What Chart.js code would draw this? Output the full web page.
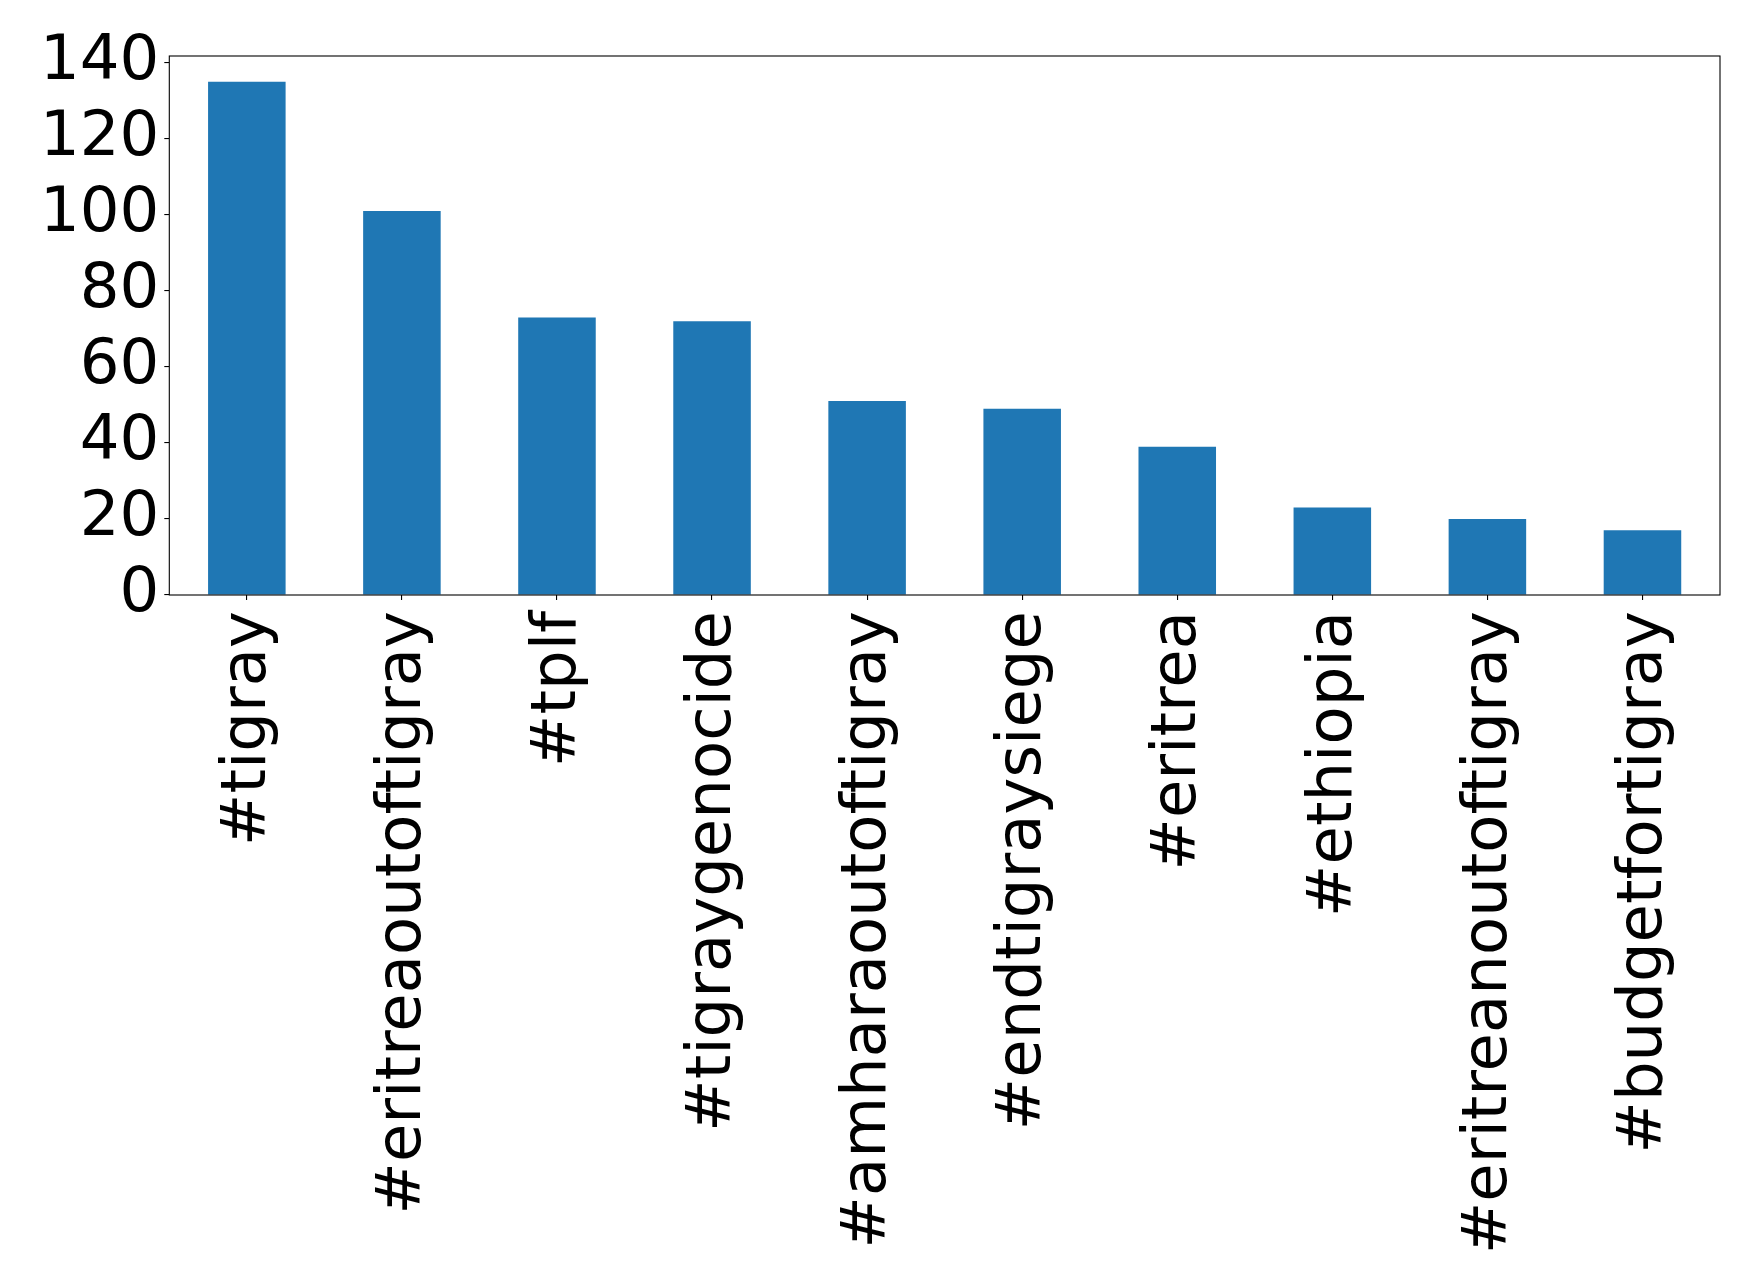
<!DOCTYPE html>
<html>
<head>
<meta charset="utf-8">
<script src="https://cdn.jsdelivr.net/npm/chart.js@4.4.1/dist/chart.umd.min.js"></script>
<style>
  html, body { margin: 0; padding: 0; background: #ffffff; }
  #wrap { width: 1758px; height: 1288px; }
</style>
</head>
<body>
<div id="wrap"><canvas id="c" width="1758" height="1288"></canvas></div>
<script>
const categories = ["#tigray", "#eritreaoutoftigray", "#tplf", "#tigraygenocide", "#amharaoutoftigray", "#endtigraysiege", "#eritrea", "#ethiopia", "#eritreanoutoftigray", "#budgetfortigray"];
const counts = [135, 101, 73, 72, 51, 49, 39, 23, 20, 17];
const yTicks = [0, 20, 40, 60, 80, 100, 120, 140];

const FONT = "'DejaVu Sans', 'Liberation Sans', sans-serif";

const frame = {
  id: 'frame',
  afterDraw(chart) {
    const a = chart.chartArea, ctx = chart.ctx;
    ctx.save();
    ctx.strokeStyle = '#000';
    ctx.lineWidth = 1.1;
    ctx.strokeRect(a.left, a.top, a.right - a.left, a.bottom - a.top);
    ctx.restore();
  }
};

new Chart(document.getElementById('c'), {
  type: 'bar',
  data: {
    labels: categories,
    datasets: [{
      data: counts,
      backgroundColor: '#1f77b4',
      borderWidth: 0,
      barPercentage: 0.5,
      categoryPercentage: 1.0
    }]
  },
  options: {
    responsive: false,
    animation: false,
    devicePixelRatio: 1,
    layout: { padding: { top: 56, right: 38, left: 0, bottom: 0 } },
    plugins: { legend: { display: false }, tooltip: { enabled: false } },
    scales: {
      x: {
        offset: true,
        grid: { offset: false, drawOnChartArea: false, drawTicks: true, tickLength: 5, color: '#000', lineWidth: 1.1 },
        border: { display: false },
        ticks: {
          color: '#000',
          font: { family: FONT, size: 62.5 },
          maxRotation: 90, minRotation: 90,
          padding: 11,
          labelOffset: 2,
          autoSkip: false
        },
        afterFit(scale) { scale.height = 693; }
      },
      y: {
        min: 0,
        max: 141.75,
        grid: { drawOnChartArea: false, drawTicks: true, tickLength: 5, color: '#000', lineWidth: 1.1 },
        border: { display: false },
        ticks: {
          color: '#000',
          font: { family: FONT, size: 62.5 },
          stepSize: 20,
          padding: 5,
          autoSkip: false
        },
        afterBuildTicks(scale) {
          scale.ticks = yTicks.map(v => ({ value: v }));
        },
        afterFit(scale) { scale.width = 169.3; }
      }
    }
  },
  plugins: [frame]
});
</script>
</body>
</html>
